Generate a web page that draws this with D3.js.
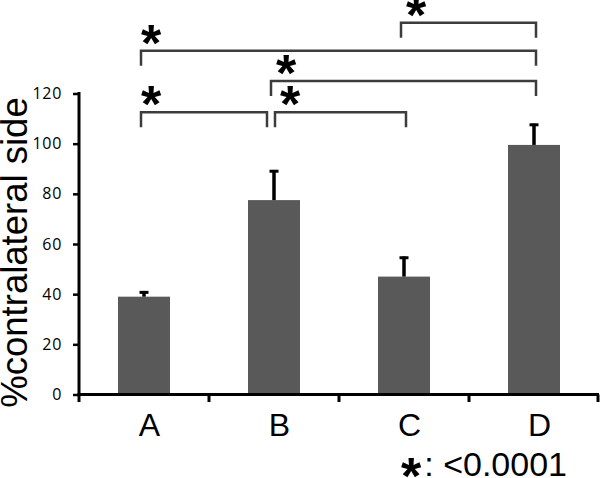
<!DOCTYPE html>
<html>
<head>
<meta charset="utf-8">
<script src="https://cdn.jsdelivr.net/npm/d3@7"></script>
<style>
  html, body { margin: 0; padding: 0; background: #fff; }
  svg { display: block; }
</style>
</head>
<body>
<svg id="chart" width="600" height="478"></svg>
<script>
// ---- data ----
const categories = ["A", "B", "C", "D"];
const means = [39, 77.5, 47, 99.5];
const errors = [2.2, 12, 8, 8.5];
const yTicks = [0, 20, 40, 60, 80, 100, 120];
const compareFrom = ["A", "B", "B", "A", "C"];
const compareTo = ["B", "C", "D", "D", "D"];
const compareLevel = [112.5, 112.5, 125, 137, 148.2];
const compareMark = ["*", "*", "*", "*", "*"];
const yLabel = "%contralateral side";
const legendMark = "*";
const legendText = ": <0.0001";

// ---- layout ----
const svg = d3.select("#chart");
const x = d3.scaleBand().domain(categories).range([79, 599]).paddingInner(0).paddingOuter(0);
const y = d3.scaleLinear().domain([0, 120]).range([394.5, 93.5]);
const cx = c => x(c) + x.bandwidth() / 2;
const barW = 52;

// bars
svg.append("g").selectAll("rect").data(categories).join("rect")
  .attr("x", d => cx(d) - barW / 2)
  .attr("width", barW)
  .attr("y", (d, i) => y(means[i]))
  .attr("height", (d, i) => y(0) - y(means[i]))
  .attr("fill", "#595959");

// error bars
const eg = svg.append("g").attr("stroke", "#000");
eg.selectAll("line.v").data(categories).join("line").attr("class", "v")
  .attr("x1", d => cx(d)).attr("x2", d => cx(d))
  .attr("y1", (d, i) => y(means[i]))
  .attr("y2", (d, i) => y(means[i] + errors[i]))
  .attr("stroke-width", 3.5);
eg.selectAll("line.c").data(categories).join("line").attr("class", "c")
  .attr("x1", d => cx(d) - 4.5).attr("x2", d => cx(d) + 4.5)
  .attr("y1", (d, i) => y(means[i] + errors[i]) + 1.2)
  .attr("y2", (d, i) => y(means[i] + errors[i]) + 1.2)
  .attr("stroke-width", 3);

// y axis
const yAxis = svg.append("g").attr("transform", "translate(79,0)")
  .call(d3.axisLeft(y).tickValues(yTicks).tickSize(6).tickSizeOuter(0).tickPadding(11));
yAxis.select(".domain").attr("stroke", "#000").attr("stroke-width", 3)
  .attr("d", `M0,${y(120) - 1.5}V${y(0) + 1.5}`);
yAxis.selectAll(".tick line").attr("stroke", "#000").attr("stroke-width", 2.5);
yAxis.selectAll(".tick text")
  .attr("font-family", "'Open Sans', Lato, sans-serif")
  .attr("font-size", 16).attr("letter-spacing", 0.7).attr("fill", "#000");

// x axis
const xAxis = svg.append("g").attr("transform", `translate(0,${y(0)})`)
  .call(d3.axisBottom(x).tickSize(0).tickSizeOuter(0).tickPadding(0));
xAxis.select(".domain").attr("stroke", "#000").attr("stroke-width", 3)
  .attr("d", `M${79 - 1.5},0H599`);
xAxis.selectAll(".tick text")
  .attr("font-family", "'Liberation Sans', Arial, sans-serif")
  .attr("font-size", 32).attr("fill", "#000")
  .attr("dx", 5.5).attr("dy", 0).attr("y", 41.5);
// boundary tick marks
const bounds = categories.map(c => x(c)).concat([x.range()[1] - 1]);
xAxis.selectAll("line.bt").data(bounds).join("line").attr("class", "bt")
  .attr("x1", d => d).attr("x2", d => d)
  .attr("y1", 0).attr("y2", 7.5)
  .attr("stroke", "#000").attr("stroke-width", 3);

// y label
svg.append("text")
  .attr("transform", `translate(27,${252.5}) rotate(-90)`)
  .attr("text-anchor", "middle")
  .attr("font-family", "'Liberation Sans', Arial, sans-serif")
  .attr("font-size", 36.5).attr("fill", "#000")
  .text(yLabel);

// significance brackets
const bg = svg.append("g");
compareFrom.forEach((a, i) => {
  const b = compareTo[i];
  const lvl = compareLevel[i];
  let left = cx(a) - 3, right = cx(b) + 2;
  compareFrom.forEach((a2, j) => {
    if (j !== i && compareLevel[j] === lvl && a2 === b) right = cx(b) - 7;
  });
  compareTo.forEach((b2, j) => {
    if (j !== i && compareLevel[j] === lvl && b2 === a) left = cx(a) + 1;
  });
  const ly = y(lvl);
  bg.append("path")
    .attr("d", `M${left},${ly + 15}V${ly}H${right}V${ly + 15}`)
    .attr("fill", "none").attr("stroke", "#3c3c3c").attr("stroke-width", 2.5);
  bg.append("text")
    .attr("x", left + (a === "A" ? 10 : 15)).attr("y", ly + 10)
    .attr("text-anchor", "middle")
    .attr("font-family", "'Liberation Sans', Arial, sans-serif")
    .attr("font-weight", "bold").attr("font-size", 52).attr("fill", "#000")
    .text(compareMark[i]);
});

// legend
const lg = svg.append("text")
  .attr("x", 401).attr("y", 475.5)
  .attr("font-family", "'Liberation Sans', Arial, sans-serif")
  .attr("font-size", 34).attr("fill", "#000");
lg.append("tspan").attr("font-weight", "bold").attr("font-size", 52)
  .attr("dy", 18).text(legendMark);
lg.append("tspan").attr("dy", -18).attr("dx", 3).text(legendText);
</script>
</body>
</html>
